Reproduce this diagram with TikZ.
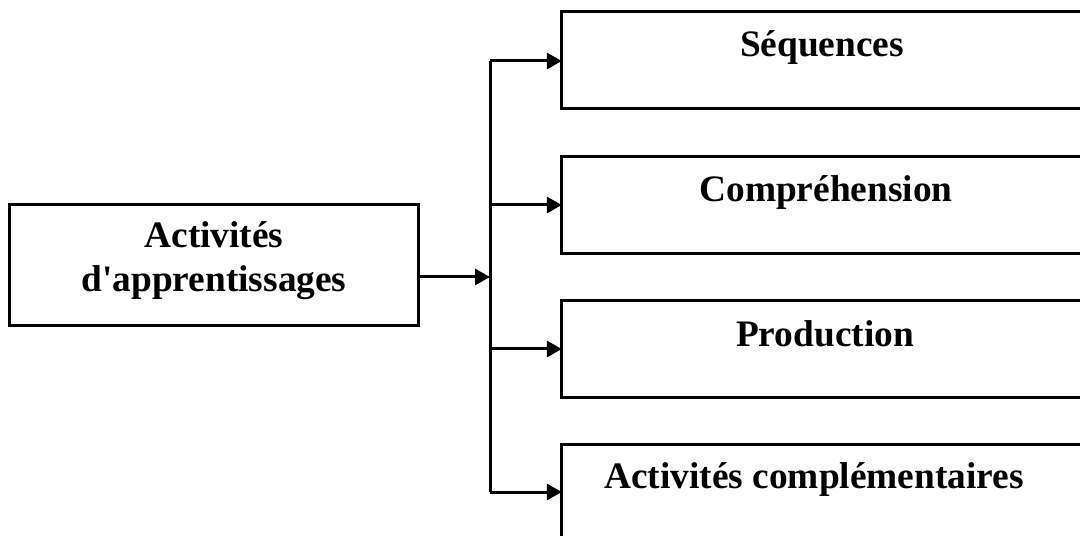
\documentclass[tikz,border=0pt]{standalone}
\usepackage{fontspec}
\setmainfont{Liberation Serif}
\usetikzlibrary{arrows.meta,calc}
\tikzset{
  box/.style={draw, line width=3bp, rectangle, inner sep=0pt},
  openbox/.style={rectangle, inner sep=0pt, minimum width=518bp},
  edge3/.style={line width=3bp},
  lbl/.style={font=\fontsize{37.5}{44}\selectfont\bfseries, inner sep=0pt, anchor=base},
  link/.style={line width=3bp},
  arr/.style={link, -{Triangle[length=15bp,width=16bp]}}
}
\begin{document}
\begin{tikzpicture}[x=1bp,y=-1bp]
  \useasboundingbox (0,0) rectangle (1081,536);

  % source box
  \node[box, minimum width=408bp, minimum height=120bp] (src) at (214,265) {};
  \node[lbl] (srcA) at (214,248) {Activités};
  \node[lbl] (srcB) at (214,292) {d\textquotesingle apprentissages};

  % target boxes: open on the right, running to the page edge
  \node[openbox, minimum height=96bp] (s1) at (821,60) {};
  \node[openbox, minimum height=96bp] (s2) at (821,205) {};
  \node[openbox, minimum height=96bp] (s3) at (821,349) {};
  \node[openbox, minimum height=120bp] (s4) at (821,505) {};
  \foreach \s in {s1,s2,s3,s4}
    \draw[edge3] (\s.north east) -- (\s.north west) -- (\s.south west) -- (\s.south east);

  \node[lbl] (t1) at (822,57) {Séquences};
  \node[lbl] (t2) at (826,202) {Compréhension};
  \node[lbl] (t3) at (825,347) {Production};
  \node[lbl] (t4) at (814,488) {Activités complémentaires};

  % branching bus
  \coordinate (j)  at (490,277);
  \coordinate (bt) at (490,61);
  \coordinate (b2) at (490,205);
  \coordinate (b3) at (490,349);
  \coordinate (bb) at (490,492);

  \draw[arr] (src.east |- j) -- (j);
  \draw[link] (bt) -- (bb);
  \draw[arr] (bt) -- (bt -| s1.west);
  \draw[arr] (b2) -- (b2 -| s2.west);
  \draw[arr] (b3) -- (b3 -| s3.west);
  \draw[arr] (bb) -- (bb -| s4.west);
\end{tikzpicture}
\end{document}
